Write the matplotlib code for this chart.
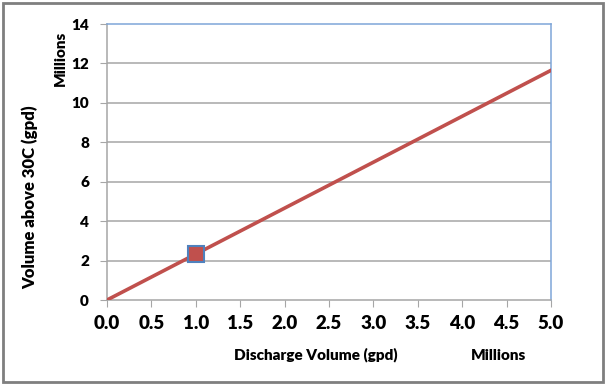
import matplotlib.pyplot as plt
from matplotlib.patches import Rectangle

plt.rcParams['font.family'] = ['Lato', 'DejaVu Sans']
plt.rcParams['font.weight'] = 'heavy'

# values in millions of gpd
line_x = [0.0, 5.0]
line_y = [0.0, 11.65]
point_x = [1.0]
point_y = [2.33]
x_ticks = [0.0, 0.5, 1.0, 1.5, 2.0, 2.5, 3.0, 3.5, 4.0, 4.5, 5.0]
y_ticks = [0, 2, 4, 6, 8, 10, 12, 14]

fig = plt.figure(figsize=(6.08, 3.85), dpi=100)
ax = fig.add_axes([107 / 608, 85 / 385, 444 / 608, 276 / 385])

grid_col = '#a6a6a6'
for yv in y_ticks[1:-1]:
    ax.axhline(yv, color=grid_col, lw=1.1, zorder=1)

ax.plot(line_x, line_y, color='#c0504d', lw=2.6, zorder=3)
ax.plot(point_x, point_y, marker='s', ls='none', markersize=11,
        markerfacecolor='#c0504d', markeredgecolor='#4f81bd', markeredgewidth=1.5, zorder=4)

ax.set_xlim(0, 5)
ax.set_ylim(0, 14)
ax.set_xticks(x_ticks)
ax.set_xticklabels([f'{v:.1f}' for v in x_ticks], fontsize=13.5, fontweight='heavy')
ax.set_yticks(y_ticks)
ax.set_yticklabels([str(v) for v in y_ticks], fontsize=11, fontweight='heavy')

ax.spines['top'].set_color('#7ea6d8')
ax.spines['right'].set_color('#7ea6d8')
ax.spines['left'].set_color(grid_col)
ax.spines['bottom'].set_color(grid_col)
for s in ax.spines.values():
    s.set_linewidth(1.1)
ax.tick_params(axis='x', direction='out', length=5, color=grid_col, pad=6)
ax.tick_params(axis='y', direction='out', length=5, color=grid_col, pad=8)

fig.text(316 / 608, 1 - 355 / 385, 'Discharge Volume (gpd)', ha='center', va='center',
         fontsize=11, fontweight='heavy')
fig.text(498 / 608, 1 - 355 / 385, 'Millions', ha='center', va='center',
         fontsize=11, fontweight='heavy')
fig.text(30 / 608, 1 - 197 / 385, 'Volume above 30C (gpd)', ha='center', va='center',
         rotation=90, fontsize=12, fontweight='heavy')
fig.text(60 / 608, 1 - 58 / 385, 'Millions', ha='center', va='center',
         rotation=90, fontsize=11, fontweight='heavy')

fig.patches.append(Rectangle((3 / 608, 3 / 385), 600 / 608, 379 / 385, transform=fig.transFigure,
                             fill=False, edgecolor='#7f7f7f', lw=2))

fig.savefig('out.png', dpi=100)
